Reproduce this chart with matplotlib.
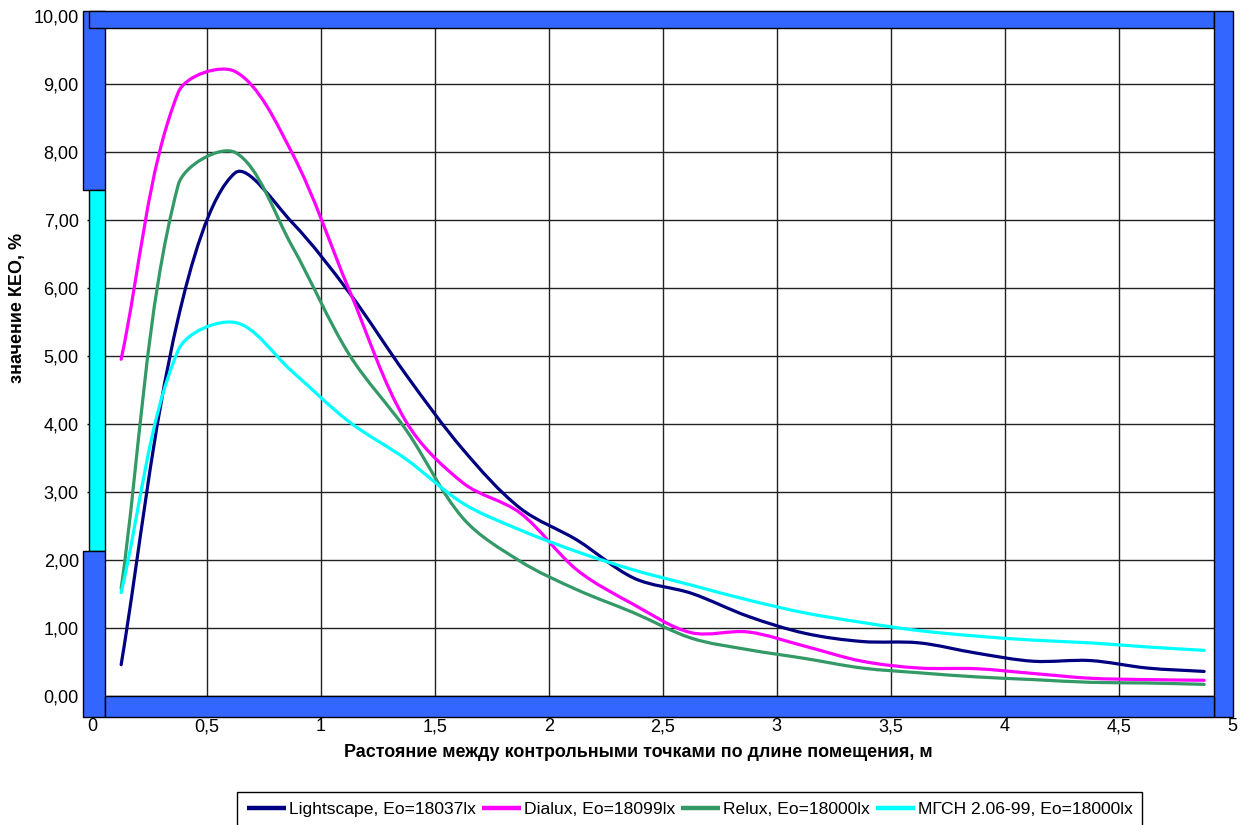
import matplotlib.pyplot as plt
from matplotlib.path import Path
from matplotlib.patches import PathPatch, Rectangle
from matplotlib.lines import Line2D

plt.rcParams['font.family'] = ['Liberation Sans', 'DejaVu Sans']

# Control points along the room length, m
x_points = [0.125, 0.375, 0.625, 0.875, 1.125, 1.375, 1.625, 1.875, 2.125, 2.375,
            2.625, 2.875, 3.125, 3.375, 3.625, 3.875, 4.125, 4.375, 4.625, 4.875]

# KEO values, %
lightscape = [0.46, 5.55, 7.69, 6.96, 5.93, 4.72, 3.62, 2.76, 2.29, 1.73,
              1.51, 1.17, 0.92, 0.80, 0.78, 0.63, 0.51, 0.52, 0.41, 0.36]
dialux = [4.95, 8.87, 9.18, 7.98, 5.97, 4.03, 3.13, 2.69, 1.85, 1.34,
          0.93, 0.94, 0.73, 0.51, 0.41, 0.40, 0.33, 0.26, 0.24, 0.23]
relux = [1.58, 7.51, 7.99, 6.61, 5.02, 3.91, 2.61, 1.98, 1.56, 1.22,
         0.85, 0.68, 0.55, 0.41, 0.34, 0.28, 0.24, 0.20, 0.19, 0.17]
mgsn = [1.52, 5.08, 5.49, 4.77, 4.03, 3.48, 2.83, 2.44, 2.12, 1.85,
        1.63, 1.41, 1.22, 1.08, 0.96, 0.88, 0.82, 0.78, 0.72, 0.67]

series = [
    ('Lightscape, Eo=18037lx', lightscape, '#000080'),
    ('Dialux, Eo=18099lx', dialux, '#FF00FF'),
    ('Relux, Eo=18000lx', relux, '#339966'),
    ('МГСН 2.06-99, Eo=18000lx', mgsn, '#00FFFF'),
]

y_ticks = [0, 1, 2, 3, 4, 5, 6, 7, 8, 9, 10]
x_ticks = [0, 0.5, 1, 1.5, 2, 2.5, 3, 3.5, 4, 4.5, 5]
x_tick_labels = ['0', '0,5', '1', '1,5', '2', '2,5', '3', '3,5', '4', '4,5', '5']

XLIM = (0, 5)
YLIM = (-0.31, 10.07)


def smooth_path(xs, ys, sx, sy, f=1 / 3):
    # Smoothed line like Excel draws it: Bezier segments whose control arms
    # are weighted by the on-screen length of the neighbouring segments
    n = len(xs)
    px = [x * sx for x in xs]
    py = [y * sy for y in ys]
    seg = [((px[i + 1] - px[i]) ** 2 + (py[i + 1] - py[i]) ** 2) ** 0.5
           for i in range(n - 1)]
    out_arm, in_arm = [], []
    for i in range(n):
        a = max(i - 1, 0)
        b = min(i + 1, n - 1)
        tx, ty = px[b] - px[a], py[b] - py[a]
        d_prev = seg[i - 1] if i > 0 else 0
        d_next = seg[i] if i < n - 1 else 0
        total = d_prev + d_next
        k_out = f * d_next / total
        k_in = f * d_prev / total
        out_arm.append((px[i] + tx * k_out, py[i] + ty * k_out))
        in_arm.append((px[i] - tx * k_in, py[i] - ty * k_in))
    verts = [(xs[0], ys[0])]
    codes = [Path.MOVETO]
    for i in range(n - 1):
        c1 = (out_arm[i][0] / sx, out_arm[i][1] / sy)
        c2 = (in_arm[i + 1][0] / sx, in_arm[i + 1][1] / sy)
        verts += [c1, c2, (xs[i + 1], ys[i + 1])]
        codes += [Path.CURVE4] * 3
    return Path(verts, codes)


fig = plt.figure(figsize=(12.47, 8.25), dpi=100)
ax = fig.add_axes([0.0743, 0.1309, 0.9142, 0.8558])
ax.set_xlim(*XLIM)
ax.set_ylim(*YLIM)

for spine in ax.spines.values():
    spine.set_visible(False)

ax.set_yticks(y_ticks)
ax.set_yticklabels([f'{v:.2f}'.replace('.', ',') for v in y_ticks])
ax.set_xticks(x_ticks)
ax.set_xticklabels(x_tick_labels)
ax.tick_params(axis='y', length=4, width=1, pad=6, labelsize=13)
ax.tick_params(axis='x', length=0, pad=1, labelsize=13)
ax.grid(True, color='#222222', linewidth=1, zorder=1)
ax.set_axisbelow(True)

# pixels per data unit, used for the smoothing weights
bbox = ax.get_window_extent()
sx = bbox.width / (XLIM[1] - XLIM[0])
sy = bbox.height / (YLIM[1] - YLIM[0])

# Curves
for label, values, color in series:
    ax.add_patch(PathPatch(smooth_path(x_points, values, sx, sy),
                           facecolor='none', edgecolor=color, linewidth=2.3,
                           capstyle='round', zorder=3))

# Room outline: walls and window
walls = [
    (-0.043, 7.44, 0.097, 2.63, '#3366FF'),   # left wall, upper part
    (-0.016, 2.13, 0.070, 5.31, '#00FFFF'),   # window opening
    (-0.043, -0.31, 0.097, 2.44, '#3366FF'),  # left wall, lower part
    (-0.016, 9.82, 4.936, 0.25, '#3366FF'),   # ceiling
    (4.920, -0.31, 0.080, 10.38, '#3366FF'),  # right wall
    (0.054, -0.31, 4.866, 0.31, '#3366FF'),   # floor
]
for x0, y0, w, h, color in walls:
    ax.add_patch(Rectangle((x0, y0), w, h, facecolor=color, edgecolor='black',
                           linewidth=1, zorder=5, clip_on=False))

ax.set_xlabel('Растояние между контрольными точками по длине помещения, м',
              fontsize=12.9, fontweight='bold')
ax.xaxis.set_label_coords(0.479, -0.038)
fig.text(18 / 1247, 1 - 308 / 825, 'значение КЕО, %', rotation=90,
         fontsize=13, fontweight='bold', ha='center', va='center')

handles = [Line2D([], [], color=c, linewidth=3.2, solid_capstyle='butt')
           for _, _, c in series]
labels = [s[0] for s in series]
leg = fig.legend(handles, labels, loc='upper left',
                 bbox_to_anchor=(237 / 1247, 1 - 792 / 825), ncol=4,
                 fontsize=12.6, frameon=True, fancybox=False, framealpha=1,
                 edgecolor='black', borderaxespad=0, borderpad=0.55,
                 handlelength=2.25, handletextpad=0.15, columnspacing=0.35)
leg.get_frame().set_linewidth(1)

fig.savefig('out.png', dpi=100)
